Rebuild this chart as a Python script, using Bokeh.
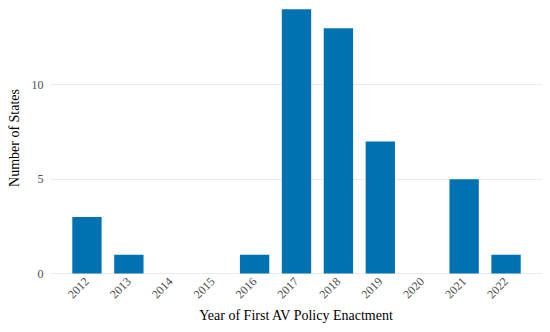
import math
from bokeh.plotting import figure
from bokeh.models import ColumnDataSource, Range1d, FixedTicker
from bokeh.embed import file_html
from bokeh.resources import INLINE

years = [2012, 2013, 2014, 2015, 2016, 2017, 2018, 2019, 2020, 2021, 2022]
counts = [3, 1, 0, 0, 1, 14, 13, 7, 0, 5, 1]
y_ticks = [0, 5, 10]

src = ColumnDataSource(data=dict(x=years, top=counts))

p = figure(width=550, height=332, output_backend="svg", toolbar_location=None,
           x_range=Range1d(2012 - 0.87, 2022 + 0.87), y_range=Range1d(-0.1, 14.47),
           min_border_top=0, min_border_right=8, min_border_left=50, min_border_bottom=57)
p.vbar(x="x", top="top", bottom=0, width=0.7, source=src, color="#0072B2", line_color=None)

FONT = "Liberation Serif"
for ax in (p.xaxis[0], p.yaxis[0]):
    ax.axis_line_color = None
    ax.major_tick_line_color = None
    ax.minor_tick_line_color = None
    ax.major_tick_out = 0
    ax.major_tick_in = 0
    ax.major_label_text_font = FONT
    ax.major_label_text_font_size = "12px"
    ax.major_label_text_color = "#4D4D4D"
    ax.axis_label_text_font = FONT
    ax.axis_label_text_font_size = "14px"
    ax.axis_label_text_font_style = "normal"
    ax.axis_label_text_color = "#000000"

p.xaxis.ticker = FixedTicker(ticks=years)
p.xaxis.major_label_overrides = {y: str(y) for y in years}
p.xaxis.major_label_orientation = math.pi / 4
p.xaxis.axis_label = "Year of First AV Policy Enactment"
p.xaxis.major_label_standoff = 4
p.xaxis.axis_label_standoff = 3
p.xaxis.major_label_text_line_height = 0.8
p.xaxis.axis_label_text_line_height = 0.8

p.yaxis.ticker = FixedTicker(ticks=y_ticks)
p.yaxis.axis_label = "Number of States"
p.yaxis.major_label_standoff = 7
p.yaxis.axis_label_standoff = 7

p.xgrid.grid_line_color = None
p.ygrid.grid_line_color = "#EBEBEB"
p.ygrid.grid_line_width = 1
p.outline_line_color = None

open("out.html", "w").write(file_html(p, INLINE))
